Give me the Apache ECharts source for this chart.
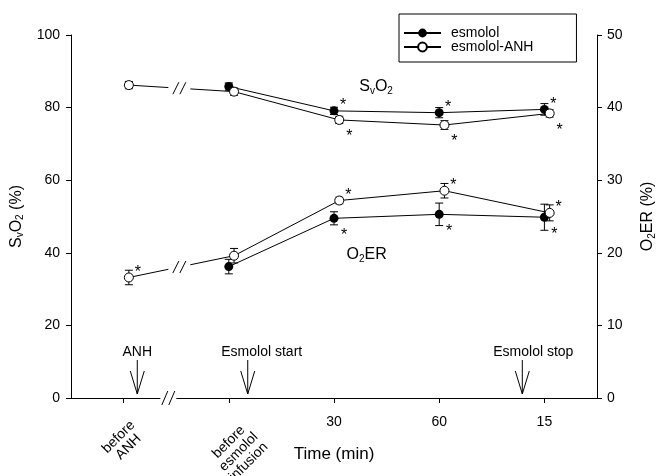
<!DOCTYPE html>
<html>
<head>
<meta charset="utf-8">
<script src="https://cdn.jsdelivr.net/npm/echarts@6/dist/echarts.min.js"></script>
<style>
  html, body { margin: 0; padding: 0; background: #fff; }
  #chart { width: 658px; height: 476px; }
</style>
</head>
<body>
<div id="chart"></div>
<script>
// time points
const categories = ['before\nANH', 'before\nesmolol\ninfusion', '30', '60', '15'];

// SvO2 (%) - left axis
const svEsmolol = [null, 85.8, 79.1, 78.6, 79.5];
const svEsmololErr = [null, 1, 1, 1.4, 1.6];
const svAnh = [86.2, 84.4, 76.6, 75.2, 78.4];
const svAnhErr = [1, 1, 1, 1.2, 1];

// O2ER (%) - right axis
const erEsmolol = [null, 18.1, 24.75, 25.3, 24.9];
const erEsmololErr = [null, 1, 0.9, 1.55, 1.8];
const erAnh = [16.6, 19.6, 27.2, 28.55, 25.5];
const erAnhErr = [1, 1, 0.45, 1, 1.1];

// significance (*)
const svEsmololSig = [0, 0, 1, 1, 1];
const svAnhSig = [0, 0, 1, 1, 1];
const erEsmololSig = [0, 0, 1, 1, 1];
const erAnhSig = [1, 0, 1, 1, 1];

// events on the time axis (category units)
const events = ['ANH', 'Esmolol start', 'Esmolol stop'];
const eventAt = [0.13, 1.18, 3.79];

const font = 'Liberation Sans, Arial, sans-serif';
const black = '#000';
const thin = { stroke: black, lineWidth: 1, fill: null };

function lineData(vals, sig) {
  const out = [];
  vals.forEach((v, i) => {
    if (v == null) return;
    out.push({ value: [i, v], label: { show: !!sig[i] } });
  });
  return out;
}

function lineSeries(name, vals, sig, xi, yi, filled, upper) {
  return {
    name: name, type: 'line', xAxisIndex: xi, yAxisIndex: yi,
    data: lineData(vals, sig),
    symbol: 'circle', symbolSize: 9,
    lineStyle: { color: black, width: 1 },
    itemStyle: filled ? { color: black } : { color: '#fff', borderColor: black, borderWidth: 1 },
    label: {
      show: false, formatter: '*', position: 'inside',
      offset: upper ? [9, -5] : [10, 17],
      fontSize: 16, color: black, fontFamily: font
    },
    emphasis: { disabled: true },
    z: 3
  };
}

function errSeries(vals, errs, xi, yi) {
  return {
    type: 'custom', xAxisIndex: xi, yAxisIndex: yi, silent: true, z: 2,
    data: vals.map((v, i) => [i, v, errs[i]]).filter(d => d[1] != null),
    renderItem: function (params, api) {
      const x = api.value(0), v = api.value(1), e = api.value(2);
      const hi = api.coord([x, v + e]), lo = api.coord([x, v - e]);
      const w = 4;
      return {
        type: 'group', children: [
          { type: 'line', shape: { x1: hi[0], y1: hi[1], x2: lo[0], y2: lo[1] }, style: thin },
          { type: 'line', shape: { x1: hi[0] - w, y1: hi[1], x2: hi[0] + w, y2: hi[1] }, style: thin },
          { type: 'line', shape: { x1: lo[0] - w, y1: lo[1], x2: lo[0] + w, y2: lo[1] }, style: thin }
        ]
      };
    }
  };
}

// "//" break mark
function breakMark(cx, cy, gapW, h) {
  const stroke = dx => ({ type: 'line', shape: { x1: cx + dx - 3, y1: cy + h, x2: cx + dx + 3, y2: cy - h }, style: thin });
  return {
    type: 'group', children: [
      { type: 'rect', shape: { x: cx - gapW / 2, y: cy - 4, width: gapW, height: 8 }, style: { fill: '#fff' } },
      stroke(-3.5), stroke(3.5)
    ]
  };
}

function lineBreak(vals, yi) {
  return {
    type: 'custom', xAxisIndex: 3, yAxisIndex: yi, silent: true, z: 4,
    data: [[0, vals[0], 1, vals[1]]],
    renderItem: function (params, api) {
      const a = api.coord([api.value(0), api.value(1)]);
      const b = api.coord([api.value(2), api.value(3)]);
      const t = 0.48;
      return breakMark(a[0] + (b[0] - a[0]) * t, a[1] + (b[1] - a[1]) * t, 22, 6);
    }
  };
}

const subRich = {
  a: { fontSize: 16, fontFamily: font, color: black },
  s: { fontSize: 10, fontFamily: font, color: black, padding: [8, 0, 0, 0] }
};

// label anchors inside the plot (time-axis units, left-axis values)
const plotLabels = [
  { at: [2.40, 85.7], text: '{a|S}{s|v}{a|O}{s|2}' },
  { at: [2.31, 39.4], text: '{a|O}{s|2}{a|ER}' }
];
const eventNudge = [0, 14, 11];

const axisText = { fontSize: 14, color: black, fontFamily: font };

const option = {
  animation: false,
  backgroundColor: '#fff',
  grid: { left: 71, right: 61, top: 35, bottom: 78, containLabel: false, outerBoundsMode: 'none' },
  legend: {
    data: ['esmolol', 'esmolol-ANH'],
    orient: 'vertical', left: 399, top: 14,
    padding: [12, 43, 8, 4], itemGap: 0, itemWidth: 37, itemHeight: 11,
    borderColor: black, borderWidth: 1, borderRadius: 0,
    textStyle: { fontSize: 14, color: black, fontFamily: font, padding: [0, 0, 0, 5] },
    selectedMode: false
  },
  xAxis: [
    {
      type: 'category', data: categories, position: 'bottom',
      axisLine: { onZero: false, lineStyle: { color: black, width: 1 } },
      axisTick: { show: true, alignWithLabel: true, interval: 0, length: 5, lineStyle: { color: black, width: 1 } },
      axisLabel: Object.assign({ interval: 0, margin: 17, formatter: (v, i) => (i < 2 ? '' : v) }, axisText),
      splitLine: { show: false },
      name: 'Time (min)', nameLocation: 'middle', nameGap: 48,
      nameTextStyle: { fontSize: 17, color: black, fontFamily: font }
    },
    {
      // rotated labels for the first two time points
      type: 'category', data: categories, position: 'bottom',
      axisLine: { show: false, onZero: false }, axisTick: { show: false }, splitLine: { show: false },
      axisLabel: {
        interval: 0, rotate: 45, align: 'center', verticalAlign: 'middle', margin: 44,
        lineHeight: 14, fontSize: 14, color: black, fontFamily: font,
        formatter: (v, i) => (i === 0 ? v : i === 1 ? '\n\n' + v : '')
      }
    },
    { type: 'value', min: -0.5, max: 4.5, show: false, axisLine: { onZero: false } },
    { type: 'value', min: -0.55, max: 4.45, show: false, axisLine: { onZero: false } }
  ],
  yAxis: [
    {
      type: 'value', min: 0, max: 100, interval: 20, position: 'left',
      splitLine: { show: false },
      axisLine: { show: true, onZero: false, lineStyle: { color: black } },
      axisTick: { show: true, length: 5, lineStyle: { color: black } },
      axisLabel: Object.assign({ margin: 11 }, axisText),
      name: '{a|S}{s|v}{a|O}{s|2}{a| (%)}', nameLocation: 'middle', nameRotate: 90, nameGap: 33,
      nameTextStyle: { rich: subRich }
    },
    {
      type: 'value', min: 0, max: 50, interval: 10, position: 'right',
      splitLine: { show: false },
      axisLine: { show: true, onZero: false, lineStyle: { color: black } },
      axisTick: { show: true, length: 5, lineStyle: { color: black } },
      axisLabel: Object.assign({ margin: 10 }, axisText),
      name: '{a|O}{s|2}{a|ER (%)}', nameLocation: 'middle', nameRotate: 90, nameGap: 42,
      nameTextStyle: { rich: subRich }
    }
  ],
  series: [
    errSeries(svEsmolol, svEsmololErr, 2, 0),
    errSeries(svAnh, svAnhErr, 3, 0),
    errSeries(erEsmolol, erEsmololErr, 2, 1),
    errSeries(erAnh, erAnhErr, 3, 1),
    lineSeries('esmolol', svEsmolol, svEsmololSig, 2, 0, true, true),
    lineSeries('esmolol-ANH', svAnh, svAnhSig, 3, 0, false, false),
    lineSeries('esmolol', erEsmolol, erEsmololSig, 2, 1, true, false),
    lineSeries('esmolol-ANH', erAnh, erAnhSig, 3, 1, false, true),
    lineBreak(svAnh, 0),
    lineBreak(erAnh, 1),
    {
      // break on the time axis
      type: 'custom', xAxisIndex: 2, yAxisIndex: 0, silent: true, z: 4,
      data: [[0.425, 0]],
      renderItem: function (params, api) {
        const p = api.coord([api.value(0), api.value(1)]);
        return breakMark(p[0], p[1], 16, 7);
      }
    },
    {
      // event arrows
      type: 'custom', xAxisIndex: 2, yAxisIndex: 0, silent: true, z: 4,
      data: eventAt.map((x, i) => [x, 0, i]),
      renderItem: function (params, api) {
        const i = api.value(2);
        const base = api.coord([api.value(0), 0]);
        const x = base[0], tip = base[1] - 4;
        return {
          type: 'group', children: [
            { type: 'line', shape: { x1: x, y1: tip - 34, x2: x, y2: tip }, style: thin },
            { type: 'polyline', shape: { points: [[x - 7, tip - 23], [x, tip], [x + 7, tip - 23]] }, style: thin },
            {
              type: 'text',
              style: {
                text: events[i], x: x + eventNudge[i], y: tip - 42,
                align: 'center', verticalAlign: 'middle',
                fontSize: 14, fontFamily: font, fill: black
              }
            }
          ]
        };
      }
    },
    {
      // SvO2 / O2ER labels
      type: 'custom', xAxisIndex: 2, yAxisIndex: 0, silent: true, z: 4,
      data: plotLabels.map((d, i) => [d.at[0], d.at[1], i]),
      renderItem: function (params, api) {
        const p = api.coord([api.value(0), api.value(1)]);
        return {
          type: 'text',
          style: {
            text: plotLabels[api.value(2)].text, rich: subRich,
            x: p[0], y: p[1], align: 'center', verticalAlign: 'middle'
          }
        };
      }
    }
  ]
};

const chart = echarts.init(document.getElementById('chart'));
chart.setOption(option);
</script>
</body>
</html>
